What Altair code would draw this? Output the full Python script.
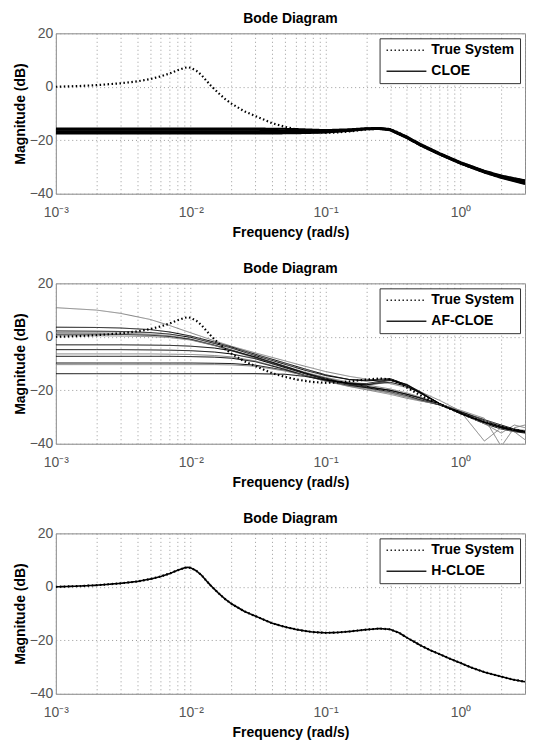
import altair as alt
import pandas as pd

FONT = "Liberation Sans"

# ---------------- data ----------------
freq_true = [0.001, 0.0015, 0.002, 0.003, 0.004, 0.005, 0.006, 0.007, 0.008, 0.009, 0.0095,
             0.01, 0.011, 0.012, 0.013, 0.014, 0.016, 0.018, 0.02, 0.025, 0.03, 0.04, 0.05,
             0.06, 0.07, 0.08, 0.1, 0.12, 0.15, 0.2, 0.25, 0.3, 0.35, 0.4, 0.5, 0.6, 0.7,
             0.8, 1.0, 1.2, 1.5, 2.0, 2.5, 3.0]
mag_true = [0.0, 0.3, 0.6, 1.3, 2.0, 2.9, 3.9, 5.0, 6.2, 7.1, 7.3,
            7.1, 6.0, 4.4, 2.4, 0.6, -2.3, -4.6, -6.3, -9.2, -10.9, -13.6, -15.0,
            -15.9, -16.5, -16.9, -17.2, -17.1, -16.7, -16.0, -15.6, -15.9, -17.2, -19.0, -21.8, -23.8, -25.2,
            -26.5, -28.5, -30.2, -31.9, -33.6, -34.8, -35.5]

# CLOE estimates (top panel)
freq_cloe = [0.001, 0.01, 0.03, 0.06, 0.1, 0.15, 0.2, 0.25, 0.3, 0.4, 0.5, 0.7, 1.0, 1.5, 2.0, 3.0]
cloe_runs = [
    [-15.6, -15.6, -15.6, -15.8, -16.2, -15.9, -15.5, -15.4, -15.8, -18.6, -21.3, -24.8, -28.2, -31.4, -33.2, -35.0],
    [-16.1, -16.1, -16.1, -16.3, -16.5, -16.1, -15.6, -15.5, -16.0, -18.8, -21.5, -25.0, -28.4, -31.6, -33.4, -35.4],
    [-16.6, -16.6, -16.6, -16.8, -16.8, -16.3, -15.7, -15.6, -16.1, -19.0, -21.7, -25.2, -28.6, -31.8, -33.6, -35.8],
    [-17.1, -17.1, -17.1, -17.2, -17.0, -16.4, -15.8, -15.7, -16.2, -19.1, -21.8, -25.3, -28.7, -32.0, -33.9, -36.2],
    [-17.5, -17.5, -17.5, -17.4, -17.1, -16.5, -15.9, -15.8, -16.3, -19.2, -21.9, -25.4, -28.8, -32.1, -34.1, -36.4],
]

# AF-CLOE estimates (middle panel)
freq_af = [0.001, 0.002, 0.003, 0.005, 0.007, 0.01, 0.015, 0.02, 0.03, 0.05, 0.07, 0.1,
           0.15, 0.2, 0.3, 0.4, 0.5, 0.7, 1.0, 1.5, 2.0, 2.5, 3.0]
af_runs = [
    [10.9, 10.0, 8.8, 6.5, 4.2, 1.5, -1.5, -3.5, -6.0, -9.0, -11.0, -13.0, -14.8, -15.8, -17.5, -19.0, -20.5, -23.8, -27.8, -31.5, -33.5, -34.5, -35.0],
    [3.6, 3.5, 3.3, 2.7, 1.8, 0.3, -2.0, -3.8, -6.5, -9.8, -12.0, -14.2, -16.0, -16.5, -16.0, -18.5, -21.0, -25.0, -28.5, -32.0, -33.8, -35.0, -35.5],
    [2.2, 2.1, 2.0, 1.6, 1.0, -0.2, -2.5, -4.2, -7.0, -10.3, -12.5, -14.5, -16.0, -16.2, -15.6, -18.0, -20.8, -25.2, -28.8, -32.5, -34.5, -35.5, -36.0],
    [1.6, 1.5, 1.4, 1.0, 0.4, -0.8, -3.0, -4.8, -7.5, -11.0, -13.2, -15.2, -17.0, -18.0, -19.5, -21.0, -22.5, -25.0, -28.0, -39.0, -34.0, -34.5, -36.0],
    [1.0, 1.0, 0.9, 0.6, 0.1, -1.0, -3.2, -5.0, -7.8, -11.3, -13.5, -15.5, -17.5, -18.5, -20.0, -21.5, -23.0, -25.3, -28.2, -31.5, -33.8, -35.0, -35.5],
    [0.4, 0.4, 0.3, 0.1, -0.3, -1.2, -3.3, -5.2, -8.0, -11.5, -13.8, -15.8, -18.0, -19.2, -21.0, -22.5, -23.8, -25.5, -28.5, -32.5, -36.0, -33.0, -34.0],
    [-3.0, -3.0, -3.0, -3.1, -3.2, -3.5, -4.2, -5.2, -7.5, -11.0, -13.5, -15.8, -17.8, -18.8, -20.0, -21.5, -22.8, -25.0, -28.0, -31.0, -33.0, -34.5, -35.5],
    [-4.8, -4.8, -4.8, -4.9, -5.0, -5.2, -5.7, -6.4, -8.2, -11.5, -13.8, -16.0, -17.5, -18.0, -17.0, -18.5, -21.0, -25.0, -28.5, -31.5, -33.5, -34.8, -35.2],
    [-6.4, -6.4, -6.4, -6.4, -6.5, -6.6, -7.0, -7.5, -9.0, -12.0, -14.2, -16.5, -18.5, -19.5, -21.0, -22.5, -23.8, -25.5, -28.5, -31.5, -34.0, -35.5, -38.5],
    [-7.3, -7.3, -7.3, -7.3, -7.3, -7.4, -7.6, -8.0, -9.3, -12.2, -14.5, -16.2, -17.3, -17.5, -16.0, -17.8, -20.5, -25.0, -28.5, -32.0, -34.0, -35.0, -35.5],
    [-9.8, -9.8, -9.8, -9.8, -9.8, -9.8, -9.9, -10.0, -10.6, -12.5, -14.5, -16.5, -18.2, -19.0, -20.5, -22.0, -23.5, -25.5, -28.5, -32.0, -34.0, -35.0, -35.5],
    [-10.4, -10.4, -10.4, -10.4, -10.4, -10.4, -10.4, -10.5, -11.0, -12.8, -14.5, -16.6, -18.6, -19.8, -21.5, -23.0, -24.0, -25.2, -27.5, -30.5, -41.0, -34.0, -33.0],
    [-13.8, -13.8, -13.8, -13.8, -13.8, -13.8, -13.8, -13.8, -13.8, -14.0, -14.8, -16.2, -17.5, -18.0, -16.3, -18.0, -20.8, -25.0, -28.8, -32.0, -34.0, -35.2, -35.8],
]
af_shades = ["#808080", "#000000", "#000000", "#808080", "#000000", "#808080", "#000000",
             "#000000", "#808080", "#000000", "#000000", "#808080", "#000000"]

# H-CLOE estimate (bottom panel)
freq_h = freq_true
mag_h = [0.0, 0.3, 0.6, 1.3, 2.0, 2.9, 3.9, 5.0, 6.2, 7.1, 7.3,
         7.1, 6.0, 4.4, 2.4, 0.6, -2.3, -4.6, -6.3, -9.2, -10.9, -13.6, -15.0,
         -15.9, -16.5, -16.9, -17.2, -17.1, -16.7, -16.0, -15.6, -15.9, -17.2, -19.0, -21.8, -23.8, -25.2,
         -26.5, -28.5, -30.2, -31.9, -33.6, -34.8, -35.5]

x_ticks = [0.001, 0.002, 0.003, 0.004, 0.005, 0.006, 0.007, 0.008, 0.009,
           0.01, 0.02, 0.03, 0.04, 0.05, 0.06, 0.07, 0.08, 0.09,
           0.1, 0.2, 0.3, 0.4, 0.5, 0.6, 0.7, 0.8, 0.9,
           1, 2, 3]
y_ticks = [-40, -20, 0, 20]

label_expr = ("datum.value == 0.001 ? '10⁻³' : datum.value == 0.01 ? '10⁻²' : "
              "datum.value == 0.1 ? '10⁻¹' : datum.value == 1 ? '10⁰' : ''")

W, H = 471, 161


def panel(model_name, runs_freq, runs, shades, model_width):
    rows = []
    for i, run in enumerate(runs):
        for f, m in zip(runs_freq, run):
            rows.append({"freq": f, "mag": m, "series": model_name, "run": f"r{i}",
                         "shade": shades[i], "w": model_width})
    models = pd.DataFrame(rows)
    true_df = pd.DataFrame({"freq": freq_true, "mag": mag_true, "series": "True System",
                            "run": "true", "shade": "#000000", "w": 2.2})

    x = alt.X("freq:Q",
              scale=alt.Scale(type="log", domain=[0.001, 3], nice=False),
              axis=alt.Axis(values=x_ticks, labelExpr=label_expr, labelOverlap=False,
                            title="Frequency  (rad/s)", grid=True, gridDash=[1, 3],
                            gridColor="#9a9a9a", ticks=False, domain=False,
                            labelColor="#555555", labelFontSize=14, labelPadding=12,
                            labelFlush=False, titleFontSize=14, titleFontWeight="bold",
                            titlePadding=6, titleColor="#000000"))
    y = alt.Y("mag:Q",
              scale=alt.Scale(domain=[-40, 20], nice=False),
              axis=alt.Axis(values=y_ticks, title="Magnitude (dB)", grid=True, gridDash=[1, 3],
                            gridColor="#9a9a9a", ticks=False, domain=False,
                            labelColor="#555555", labelFontSize=14, labelPadding=3,
                            titleFontSize=14, titleFontWeight="bold", titlePadding=2,
                            titleColor="#000000"))
    dash = alt.StrokeDash("series:N",
                          scale=alt.Scale(domain=["True System", model_name],
                                          range=[[1.5, 2.5], [1, 0]]),
                          legend=alt.Legend(title=None, orient="top-right", offset=5,
                                            symbolType="M-4,0H4", symbolSize=100,
                                            symbolOffset=15,
                                            symbolStrokeWidth=1.5, symbolStrokeColor="#222222",
                                            labelFontSize=14, labelFontWeight="bold",
                                            labelFont=FONT, labelColor="#000000",
                                            strokeColor="#333333", fillColor="#ffffff",
                                            padding=5, rowPadding=7, labelOffset=18))
    model_layer = alt.Chart(models).mark_line(clip=True).encode(
        x=x, y=y, strokeDash=dash, detail="run:N",
        color=alt.Color("shade:N", scale=None),
        strokeWidth=alt.StrokeWidth("w:Q", scale=None))
    true_layer = alt.Chart(true_df).mark_line(clip=True).encode(
        x=x, y=y, strokeDash=dash,
        color=alt.Color("shade:N", scale=None),
        strokeWidth=alt.StrokeWidth("w:Q", scale=None))
    return alt.layer(model_layer, true_layer).properties(
        width=W, height=H,
        title=alt.TitleParams("Bode Diagram", fontSize=14, fontWeight="bold", font=FONT,
                              offset=0, color="#000000"))


top = panel("CLOE", freq_cloe, cloe_runs, ["#000000"] * len(cloe_runs), 2.0)
mid = panel("AF-CLOE", freq_af, af_runs, af_shades, 1.0)
bot = panel("H-CLOE", freq_h, [mag_h], ["#000000"], 1.6)

chart = alt.vconcat(top, mid, bot, spacing=21).resolve_scale(
    strokeDash="independent"
).resolve_legend(strokeDash="independent").properties(
    padding={"left": 4, "top": 2, "right": 0, "bottom": 0}
).configure(font=FONT).configure_view(stroke="#888888", strokeWidth=1)

chart.save("out.html", embed_options={"renderer": "svg", "actions": False})
